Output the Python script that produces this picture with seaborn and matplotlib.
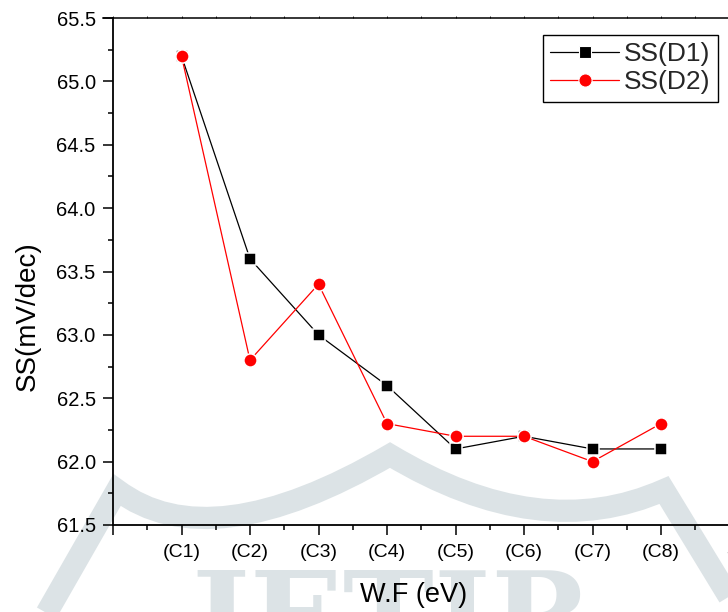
import numpy as np
import pandas as pd
import seaborn as sns
import matplotlib
matplotlib.use("Agg")
import matplotlib.pyplot as plt
from matplotlib.lines import Line2D
from matplotlib.path import Path
from matplotlib.patches import PathPatch
from matplotlib.ticker import MultipleLocator, FormatStrFormatter

# ---- data -------------------------------------------------------------
categories = ["(C1)", "(C2)", "(C3)", "(C4)", "(C5)", "(C6)", "(C7)", "(C8)"]
ss_d1 = [65.2, 63.6, 63.0, 62.6, 62.1, 62.2, 62.1, 62.1]
ss_d2 = [65.2, 62.8, 63.4, 62.3, 62.2, 62.2, 62.0, 62.3]
series_names = ["SS(D1)", "SS(D2)"]
extra_tick_label = "-"

positions = list(range(1, len(categories) + 1))
df = pd.DataFrame({
    "pos": positions * 2,
    "ss": ss_d1 + ss_d2,
    "series": [series_names[0]] * len(ss_d1) + [series_names[1]] * len(ss_d2),
})

sns.set_theme(style="ticks")
plt.rcParams["font.family"] = ["Liberation Sans", "DejaVu Sans"]

W, H = 728, 612
fig = plt.figure(figsize=(W / 100, H / 100), dpi=100)
fig.patch.set_facecolor("white")

def fx(px):
    return px / W

def fy(py):
    return 1 - py / H

# ---- faint logo watermark in the background ---------------------------
wm = "#dce3e6"
crown_pts = [(38, 628), (117, 490), (210, 560), (390, 455), (540, 545), (664, 490), (742, 618)]
crown_codes = [Path.MOVETO, Path.LINETO, Path.CURVE3, Path.CURVE3,
               Path.CURVE3, Path.CURVE3, Path.LINETO]
crown = Path([(fx(x), fy(y)) for x, y in crown_pts], crown_codes)
fig.add_artist(PathPatch(crown, transform=fig.transFigure, facecolor="none",
                         edgecolor=wm, lw=16, capstyle="butt", joinstyle="miter", zorder=-5))
fig.text(fx(392), fy(566), "JETIR", ha="center", va="top", color=wm,
         fontfamily="DejaVu Serif", fontweight="bold", fontsize=88, zorder=-5)

# ---- axes -------------------------------------------------------------
step_px = 68.5
x_max = 10
ax = fig.add_axes([fx(113), fy(525), x_max * step_px / W, (525 - 18) / H])
ax.patch.set_alpha(0)

styles = [
    dict(color="black", marker="s", markersize=8),
    dict(color="red", marker="o", markersize=9.5),
]
for name, st in zip(series_names, styles):
    sub = df[df["series"] == name]
    sns.lineplot(data=sub, x="pos", y="ss", ax=ax, color=st["color"], marker=st["marker"],
                 markersize=st["markersize"], markeredgecolor="white", markeredgewidth=1.1,
                 linewidth=0.9, legend=False)

ax.set_xlim(0, x_max)
ax.set_ylim(61.5, 65.5)
ax.set_xticks(range(0, len(categories) + 2))
ax.set_xticklabels([""] + categories + [extra_tick_label], fontsize=14)
ax.xaxis.set_minor_locator(MultipleLocator(0.5))
ax.yaxis.set_major_locator(MultipleLocator(0.5))
ax.yaxis.set_minor_locator(MultipleLocator(0.25))
ax.yaxis.set_major_formatter(FormatStrFormatter("%.1f"))
for lab in ax.get_yticklabels():
    lab.set_fontsize(14.5)

ax.tick_params(axis="both", which="major", direction="out", length=7, width=1.1,
               color="black", labelcolor="black")
ax.tick_params(axis="both", which="minor", direction="out", length=3.8, width=1.1, color="black")
ax.tick_params(axis="y", which="major", pad=5.5)
ax.tick_params(axis="x", which="major", pad=7)
ax.tick_params(axis="x", which="both", top=True, labeltop=False)

for side in ["left", "bottom", "top"]:
    ax.spines[side].set_visible(True)
    ax.spines[side].set_color("black")
    ax.spines[side].set_linewidth(1.3)
ax.spines["right"].set_visible(False)
ax.spines["top"].set_linewidth(1.1)
ax.spines["top"].set_bounds(-0.15, x_max)

# top ticks are only tiny nubs
for t in ax.xaxis.get_major_ticks() + ax.xaxis.get_minor_ticks():
    t.tick2line.set_markersize(1.5)
    t.tick2line.set_markeredgewidth(0.6)

ax.set_xlabel("W.F (eV)", fontsize=19.5, color="black")
ax.set_ylabel("SS(mV/dec)", fontsize=20, color="black")
ax.xaxis.set_label_coords((414 - 113) / (x_max * step_px), (525 - 582) / 507)
ax.yaxis.set_label_coords((28 - 113) / (x_max * step_px), (525 - 316) / 507)
ax.xaxis.label.set_va("top")
ax.yaxis.label.set_va("center")

handles = [Line2D([], [], color=st["color"], marker=st["marker"], markersize=st["markersize"],
                  markeredgecolor="white", markeredgewidth=0.8, linewidth=0.9)
           for st in styles]
leg = ax.legend(handles, series_names, loc="upper right",
                bbox_to_anchor=(fx(718), fy(35)), bbox_transform=fig.transFigure,
                fontsize=19, frameon=True, fancybox=False, framealpha=1,
                edgecolor="black", handlelength=2.6, borderpad=0.28,
                labelspacing=0.15, handletextpad=0.2, borderaxespad=0)
leg.get_frame().set_linewidth(1.0)

fig.savefig("out.png", dpi=100)
